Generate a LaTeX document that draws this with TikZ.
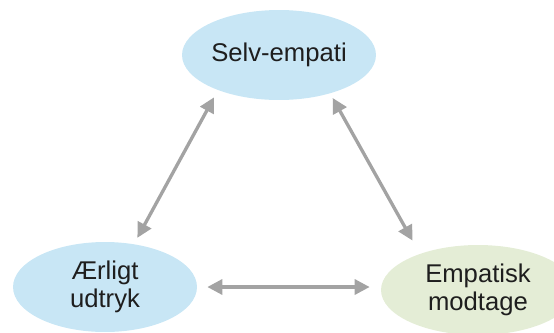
\documentclass[tikz,border=0pt]{standalone}
\usepackage{fontspec}
\setmainfont{Liberation Sans}
\usetikzlibrary{shapes.geometric}
\usetikzlibrary{arrows.meta}

\definecolor{skyblue}{RGB}{200,230,245}
\definecolor{sage}{RGB}{228,237,214}
\definecolor{arrowgray}{RGB}{163,163,163}
\definecolor{inkgray}{RGB}{30,30,30}

\begin{document}
\begin{tikzpicture}
 [ x=0.02cm
 , y=-0.02cm
 , bubble/.style={ellipse, inner sep=0pt, minimum height=1.8cm, align=center,
     text=inkgray, font=\fontsize{14.6}{16}\selectfont}
 , blue bubble/.style={bubble, fill=skyblue}
 , green bubble/.style={bubble, fill=sage}
 , link/.style={draw=arrowgray, line width=1.9pt,
     {Triangle[length=0.3cm, width=0.3cm]}-{Triangle[length=0.3cm, width=0.3cm]}}
 ]
  \clip (0,0) rectangle (554,332);
  \node [blue bubble, minimum width=3.88cm] (self) at (279,55) {Selv-empati};
  \node [blue bubble, minimum width=3.68cm] (honest) at (105,287) {Ærligt\\udtryk};
  \node [green bubble, minimum width=3.88cm] (receive) at (478,290) {Empatisk\\modtage};

  \draw [link, shorten <=0.14cm, shorten >=0.16cm] (honest.56) -- (self.210);
  \draw [link, shorten <=0.1cm, shorten >=0.3cm] (self.323) -- (receive.148);
  \draw [link, shorten <=0.2cm, shorten >=0.22cm] (honest.east) -- (honest.east -| receive.west);
\end{tikzpicture}
\end{document}
